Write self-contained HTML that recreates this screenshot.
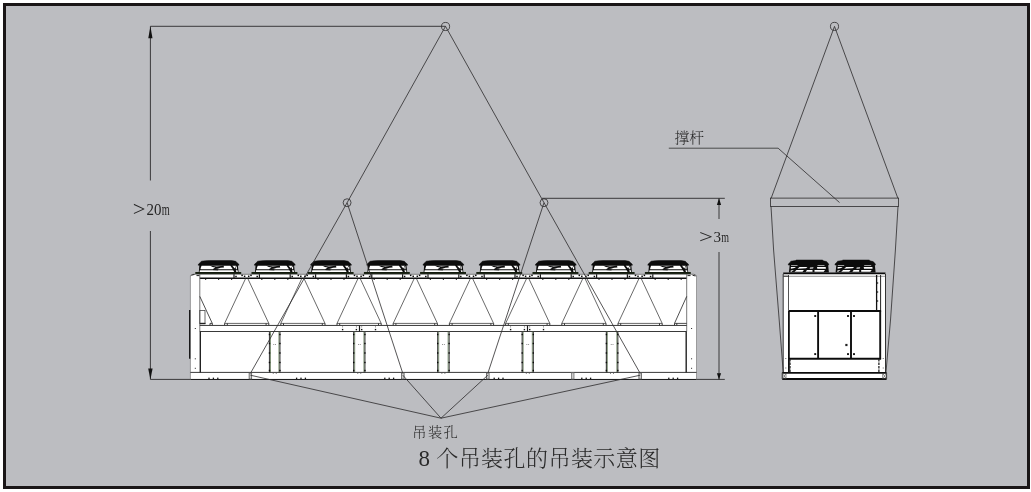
<!DOCTYPE html>
<html lang="zh-CN"><head><meta charset="utf-8"><title>8 个吊装孔的吊装示意图</title>
<style>
html,body{margin:0;padding:0;background:#fff;}
body{width:1031px;height:492px;overflow:hidden;position:relative;}
#frame{position:absolute;left:3px;top:3px;width:1021px;height:480px;border:3px solid #1a1617;background:#bcbdc1;}
svg{position:absolute;left:0;top:0;will-change:transform;}
.t{position:absolute;white-space:nowrap;color:#2a2a2a;line-height:1;font-family:"Liberation Serif","Noto Serif CJK SC",serif;}
</style></head><body>
<div id="frame"></div>
<svg width="1031" height="492" viewBox="0 0 1031 492">
<path d="M190.4,379.45 L190.4,275.8 L192.9,274.3 L694.0,274.3 L696.5,275.8 L696.5,379.45 Z" fill="#fff" stroke="none"/>
<line x1="195.30" y1="273.00" x2="241.20" y2="273.00" stroke="#16200f" stroke-width="1.9" />
<path d="M199.40,264.8 L237.80,264.8 L238.60,272.2 L198.80,272.2 Z" fill="#0c0c0c" stroke="none" stroke-width="0" />
<path d="M201.60,265.6 L230.20,265.6 L232.80,269.3 L200.60,269.3 L200.60,268.2 Z" fill="#fff" stroke="none" stroke-width="0" />
<path d="M232.20,265.6 L236.20,265.6 L234.80,268.4 Z" fill="#fff" stroke="none" stroke-width="0" />
<path d="M235.60,267.6 L236.90,266.0 L236.90,269.3 L236.00,269.3 Z" fill="#fff" stroke="none" stroke-width="0" />
<path d="M199.90,270.2 L233.20,270.2 L234.20,271.9 L199.60,271.9 Z" fill="#fff" stroke="none" stroke-width="0" />
<path d="M235.80,270.2 L237.60,270.2 L237.80,271.9 L236.40,271.9 Z" fill="#fff" stroke="none" stroke-width="0" />
<path d="M209.60,265.6 L216.60,266.4 L221.10,265.9 L223.60,265.6 L224.00,267.6 L220.60,267.8 L217.60,268.8 L212.60,269.3 L215.40,267.6 L212.60,266.9 Z" fill="#0c0c0c" stroke="none" stroke-width="0" />
<line x1="213.10" y1="269.60" x2="218.10" y2="269.90" stroke="#0c0c0c" stroke-width="1.0" />
<path d="M198.20,265.2 L198.50,264.1 L200.30,262.6 L201.40,261.2 L205.60,260.7 L209.60,260.5 L231.60,260.5 L235.80,261.3 L236.90,262.6 L238.70,264.1 L239.00,265.2 Z" fill="#0c0c0c" stroke="#0c0c0c" stroke-width="0.5" />
<line x1="251.50" y1="273.00" x2="297.40" y2="273.00" stroke="#16200f" stroke-width="1.9" />
<path d="M255.60,264.8 L294.00,264.8 L294.80,272.2 L255.00,272.2 Z" fill="#0c0c0c" stroke="none" stroke-width="0" />
<path d="M257.80,265.6 L286.40,265.6 L289.00,269.3 L256.80,269.3 L256.80,268.2 Z" fill="#fff" stroke="none" stroke-width="0" />
<path d="M288.40,265.6 L292.40,265.6 L291.00,268.4 Z" fill="#fff" stroke="none" stroke-width="0" />
<path d="M291.80,267.6 L293.10,266.0 L293.10,269.3 L292.20,269.3 Z" fill="#fff" stroke="none" stroke-width="0" />
<path d="M256.10,270.2 L289.40,270.2 L290.40,271.9 L255.80,271.9 Z" fill="#fff" stroke="none" stroke-width="0" />
<path d="M292.00,270.2 L293.80,270.2 L294.00,271.9 L292.60,271.9 Z" fill="#fff" stroke="none" stroke-width="0" />
<path d="M265.80,265.6 L272.80,266.4 L277.30,265.9 L279.80,265.6 L280.20,267.6 L276.80,267.8 L273.80,268.8 L268.80,269.3 L271.60,267.6 L268.80,266.9 Z" fill="#0c0c0c" stroke="none" stroke-width="0" />
<line x1="269.30" y1="269.60" x2="274.30" y2="269.90" stroke="#0c0c0c" stroke-width="1.0" />
<path d="M254.40,265.2 L254.70,264.1 L256.50,262.6 L257.60,261.2 L261.80,260.7 L265.80,260.5 L287.80,260.5 L292.00,261.3 L293.10,262.6 L294.90,264.1 L295.20,265.2 Z" fill="#0c0c0c" stroke="#0c0c0c" stroke-width="0.5" />
<line x1="307.70" y1="273.00" x2="353.60" y2="273.00" stroke="#16200f" stroke-width="1.9" />
<path d="M311.80,264.8 L350.20,264.8 L351.00,272.2 L311.20,272.2 Z" fill="#0c0c0c" stroke="none" stroke-width="0" />
<path d="M314.00,265.6 L342.60,265.6 L345.20,269.3 L313.00,269.3 L313.00,268.2 Z" fill="#fff" stroke="none" stroke-width="0" />
<path d="M344.60,265.6 L348.60,265.6 L347.20,268.4 Z" fill="#fff" stroke="none" stroke-width="0" />
<path d="M348.00,267.6 L349.30,266.0 L349.30,269.3 L348.40,269.3 Z" fill="#fff" stroke="none" stroke-width="0" />
<path d="M312.30,270.2 L345.60,270.2 L346.60,271.9 L312.00,271.9 Z" fill="#fff" stroke="none" stroke-width="0" />
<path d="M348.20,270.2 L350.00,270.2 L350.20,271.9 L348.80,271.9 Z" fill="#fff" stroke="none" stroke-width="0" />
<path d="M322.00,265.6 L329.00,266.4 L333.50,265.9 L336.00,265.6 L336.40,267.6 L333.00,267.8 L330.00,268.8 L325.00,269.3 L327.80,267.6 L325.00,266.9 Z" fill="#0c0c0c" stroke="none" stroke-width="0" />
<line x1="325.50" y1="269.60" x2="330.50" y2="269.90" stroke="#0c0c0c" stroke-width="1.0" />
<path d="M310.60,265.2 L310.90,264.1 L312.70,262.6 L313.80,261.2 L318.00,260.7 L322.00,260.5 L344.00,260.5 L348.20,261.3 L349.30,262.6 L351.10,264.1 L351.40,265.2 Z" fill="#0c0c0c" stroke="#0c0c0c" stroke-width="0.5" />
<line x1="363.90" y1="273.00" x2="409.80" y2="273.00" stroke="#16200f" stroke-width="1.9" />
<path d="M368.00,264.8 L406.40,264.8 L407.20,272.2 L367.40,272.2 Z" fill="#0c0c0c" stroke="none" stroke-width="0" />
<path d="M370.20,265.6 L398.80,265.6 L401.40,269.3 L369.20,269.3 L369.20,268.2 Z" fill="#fff" stroke="none" stroke-width="0" />
<path d="M400.80,265.6 L404.80,265.6 L403.40,268.4 Z" fill="#fff" stroke="none" stroke-width="0" />
<path d="M404.20,267.6 L405.50,266.0 L405.50,269.3 L404.60,269.3 Z" fill="#fff" stroke="none" stroke-width="0" />
<path d="M368.50,270.2 L401.80,270.2 L402.80,271.9 L368.20,271.9 Z" fill="#fff" stroke="none" stroke-width="0" />
<path d="M404.40,270.2 L406.20,270.2 L406.40,271.9 L405.00,271.9 Z" fill="#fff" stroke="none" stroke-width="0" />
<path d="M378.20,265.6 L385.20,266.4 L389.70,265.9 L392.20,265.6 L392.60,267.6 L389.20,267.8 L386.20,268.8 L381.20,269.3 L384.00,267.6 L381.20,266.9 Z" fill="#0c0c0c" stroke="none" stroke-width="0" />
<line x1="381.70" y1="269.60" x2="386.70" y2="269.90" stroke="#0c0c0c" stroke-width="1.0" />
<path d="M366.80,265.2 L367.10,264.1 L368.90,262.6 L370.00,261.2 L374.20,260.7 L378.20,260.5 L400.20,260.5 L404.40,261.3 L405.50,262.6 L407.30,264.1 L407.60,265.2 Z" fill="#0c0c0c" stroke="#0c0c0c" stroke-width="0.5" />
<line x1="420.10" y1="273.00" x2="466.00" y2="273.00" stroke="#16200f" stroke-width="1.9" />
<path d="M424.20,264.8 L462.60,264.8 L463.40,272.2 L423.60,272.2 Z" fill="#0c0c0c" stroke="none" stroke-width="0" />
<path d="M426.40,265.6 L455.00,265.6 L457.60,269.3 L425.40,269.3 L425.40,268.2 Z" fill="#fff" stroke="none" stroke-width="0" />
<path d="M457.00,265.6 L461.00,265.6 L459.60,268.4 Z" fill="#fff" stroke="none" stroke-width="0" />
<path d="M460.40,267.6 L461.70,266.0 L461.70,269.3 L460.80,269.3 Z" fill="#fff" stroke="none" stroke-width="0" />
<path d="M424.70,270.2 L458.00,270.2 L459.00,271.9 L424.40,271.9 Z" fill="#fff" stroke="none" stroke-width="0" />
<path d="M460.60,270.2 L462.40,270.2 L462.60,271.9 L461.20,271.9 Z" fill="#fff" stroke="none" stroke-width="0" />
<path d="M434.40,265.6 L441.40,266.4 L445.90,265.9 L448.40,265.6 L448.80,267.6 L445.40,267.8 L442.40,268.8 L437.40,269.3 L440.20,267.6 L437.40,266.9 Z" fill="#0c0c0c" stroke="none" stroke-width="0" />
<line x1="437.90" y1="269.60" x2="442.90" y2="269.90" stroke="#0c0c0c" stroke-width="1.0" />
<path d="M423.00,265.2 L423.30,264.1 L425.10,262.6 L426.20,261.2 L430.40,260.7 L434.40,260.5 L456.40,260.5 L460.60,261.3 L461.70,262.6 L463.50,264.1 L463.80,265.2 Z" fill="#0c0c0c" stroke="#0c0c0c" stroke-width="0.5" />
<line x1="476.30" y1="273.00" x2="522.20" y2="273.00" stroke="#16200f" stroke-width="1.9" />
<path d="M480.40,264.8 L518.80,264.8 L519.60,272.2 L479.80,272.2 Z" fill="#0c0c0c" stroke="none" stroke-width="0" />
<path d="M482.60,265.6 L511.20,265.6 L513.80,269.3 L481.60,269.3 L481.60,268.2 Z" fill="#fff" stroke="none" stroke-width="0" />
<path d="M513.20,265.6 L517.20,265.6 L515.80,268.4 Z" fill="#fff" stroke="none" stroke-width="0" />
<path d="M516.60,267.6 L517.90,266.0 L517.90,269.3 L517.00,269.3 Z" fill="#fff" stroke="none" stroke-width="0" />
<path d="M480.90,270.2 L514.20,270.2 L515.20,271.9 L480.60,271.9 Z" fill="#fff" stroke="none" stroke-width="0" />
<path d="M516.80,270.2 L518.60,270.2 L518.80,271.9 L517.40,271.9 Z" fill="#fff" stroke="none" stroke-width="0" />
<path d="M490.60,265.6 L497.60,266.4 L502.10,265.9 L504.60,265.6 L505.00,267.6 L501.60,267.8 L498.60,268.8 L493.60,269.3 L496.40,267.6 L493.60,266.9 Z" fill="#0c0c0c" stroke="none" stroke-width="0" />
<line x1="494.10" y1="269.60" x2="499.10" y2="269.90" stroke="#0c0c0c" stroke-width="1.0" />
<path d="M479.20,265.2 L479.50,264.1 L481.30,262.6 L482.40,261.2 L486.60,260.7 L490.60,260.5 L512.60,260.5 L516.80,261.3 L517.90,262.6 L519.70,264.1 L520.00,265.2 Z" fill="#0c0c0c" stroke="#0c0c0c" stroke-width="0.5" />
<line x1="532.50" y1="273.00" x2="578.40" y2="273.00" stroke="#16200f" stroke-width="1.9" />
<path d="M536.60,264.8 L575.00,264.8 L575.80,272.2 L536.00,272.2 Z" fill="#0c0c0c" stroke="none" stroke-width="0" />
<path d="M538.80,265.6 L567.40,265.6 L570.00,269.3 L537.80,269.3 L537.80,268.2 Z" fill="#fff" stroke="none" stroke-width="0" />
<path d="M569.40,265.6 L573.40,265.6 L572.00,268.4 Z" fill="#fff" stroke="none" stroke-width="0" />
<path d="M572.80,267.6 L574.10,266.0 L574.10,269.3 L573.20,269.3 Z" fill="#fff" stroke="none" stroke-width="0" />
<path d="M537.10,270.2 L570.40,270.2 L571.40,271.9 L536.80,271.9 Z" fill="#fff" stroke="none" stroke-width="0" />
<path d="M573.00,270.2 L574.80,270.2 L575.00,271.9 L573.60,271.9 Z" fill="#fff" stroke="none" stroke-width="0" />
<path d="M546.80,265.6 L553.80,266.4 L558.30,265.9 L560.80,265.6 L561.20,267.6 L557.80,267.8 L554.80,268.8 L549.80,269.3 L552.60,267.6 L549.80,266.9 Z" fill="#0c0c0c" stroke="none" stroke-width="0" />
<line x1="550.30" y1="269.60" x2="555.30" y2="269.90" stroke="#0c0c0c" stroke-width="1.0" />
<path d="M535.40,265.2 L535.70,264.1 L537.50,262.6 L538.60,261.2 L542.80,260.7 L546.80,260.5 L568.80,260.5 L573.00,261.3 L574.10,262.6 L575.90,264.1 L576.20,265.2 Z" fill="#0c0c0c" stroke="#0c0c0c" stroke-width="0.5" />
<line x1="588.70" y1="273.00" x2="634.60" y2="273.00" stroke="#16200f" stroke-width="1.9" />
<path d="M592.80,264.8 L631.20,264.8 L632.00,272.2 L592.20,272.2 Z" fill="#0c0c0c" stroke="none" stroke-width="0" />
<path d="M595.00,265.6 L623.60,265.6 L626.20,269.3 L594.00,269.3 L594.00,268.2 Z" fill="#fff" stroke="none" stroke-width="0" />
<path d="M625.60,265.6 L629.60,265.6 L628.20,268.4 Z" fill="#fff" stroke="none" stroke-width="0" />
<path d="M629.00,267.6 L630.30,266.0 L630.30,269.3 L629.40,269.3 Z" fill="#fff" stroke="none" stroke-width="0" />
<path d="M593.30,270.2 L626.60,270.2 L627.60,271.9 L593.00,271.9 Z" fill="#fff" stroke="none" stroke-width="0" />
<path d="M629.20,270.2 L631.00,270.2 L631.20,271.9 L629.80,271.9 Z" fill="#fff" stroke="none" stroke-width="0" />
<path d="M603.00,265.6 L610.00,266.4 L614.50,265.9 L617.00,265.6 L617.40,267.6 L614.00,267.8 L611.00,268.8 L606.00,269.3 L608.80,267.6 L606.00,266.9 Z" fill="#0c0c0c" stroke="none" stroke-width="0" />
<line x1="606.50" y1="269.60" x2="611.50" y2="269.90" stroke="#0c0c0c" stroke-width="1.0" />
<path d="M591.60,265.2 L591.90,264.1 L593.70,262.6 L594.80,261.2 L599.00,260.7 L603.00,260.5 L625.00,260.5 L629.20,261.3 L630.30,262.6 L632.10,264.1 L632.40,265.2 Z" fill="#0c0c0c" stroke="#0c0c0c" stroke-width="0.5" />
<line x1="644.90" y1="273.00" x2="690.80" y2="273.00" stroke="#16200f" stroke-width="1.9" />
<path d="M649.00,264.8 L687.40,264.8 L688.20,272.2 L648.40,272.2 Z" fill="#0c0c0c" stroke="none" stroke-width="0" />
<path d="M651.20,265.6 L679.80,265.6 L682.40,269.3 L650.20,269.3 L650.20,268.2 Z" fill="#fff" stroke="none" stroke-width="0" />
<path d="M681.80,265.6 L685.80,265.6 L684.40,268.4 Z" fill="#fff" stroke="none" stroke-width="0" />
<path d="M685.20,267.6 L686.50,266.0 L686.50,269.3 L685.60,269.3 Z" fill="#fff" stroke="none" stroke-width="0" />
<path d="M649.50,270.2 L682.80,270.2 L683.80,271.9 L649.20,271.9 Z" fill="#fff" stroke="none" stroke-width="0" />
<path d="M685.40,270.2 L687.20,270.2 L687.40,271.9 L686.00,271.9 Z" fill="#fff" stroke="none" stroke-width="0" />
<path d="M659.20,265.6 L666.20,266.4 L670.70,265.9 L673.20,265.6 L673.60,267.6 L670.20,267.8 L667.20,268.8 L662.20,269.3 L665.00,267.6 L662.20,266.9 Z" fill="#0c0c0c" stroke="none" stroke-width="0" />
<line x1="662.70" y1="269.60" x2="667.70" y2="269.90" stroke="#0c0c0c" stroke-width="1.0" />
<path d="M647.80,265.2 L648.10,264.1 L649.90,262.6 L651.00,261.2 L655.20,260.7 L659.20,260.5 L681.20,260.5 L685.40,261.3 L686.50,262.6 L688.30,264.1 L688.60,265.2 Z" fill="#0c0c0c" stroke="#0c0c0c" stroke-width="0.5" />
<line x1="192.90" y1="274.30" x2="694.00" y2="274.30" stroke="#555" stroke-width="0.7" />
<line x1="199.80" y1="278.20" x2="686.70" y2="278.20" stroke="#111" stroke-width="1.4" />
<line x1="191.50" y1="275.20" x2="194.50" y2="274.40" stroke="#222" stroke-width="1.0" />
<line x1="196.50" y1="275.60" x2="199.50" y2="275.60" stroke="#222" stroke-width="1.0" />
<line x1="692.50" y1="275.20" x2="695.50" y2="276.00" stroke="#222" stroke-width="1.0" />
<line x1="687.50" y1="275.60" x2="690.50" y2="275.60" stroke="#222" stroke-width="1.0" />
<line x1="190.40" y1="275.80" x2="190.40" y2="379.45" stroke="#8a8a8a" stroke-width="0.8" />
<line x1="696.50" y1="275.80" x2="696.50" y2="379.45" stroke="#8a8a8a" stroke-width="0.8" />
<line x1="190.40" y1="275.80" x2="192.90" y2="274.30" stroke="#444" stroke-width="0.8" />
<line x1="696.50" y1="275.80" x2="694.00" y2="274.30" stroke="#444" stroke-width="0.8" />
<line x1="199.80" y1="274.30" x2="199.80" y2="331.50" stroke="#555" stroke-width="0.8" />
<line x1="686.70" y1="274.30" x2="686.70" y2="331.50" stroke="#555" stroke-width="0.8" />
<line x1="200.30" y1="331.50" x2="200.30" y2="372.40" stroke="#222" stroke-width="1.4" />
<line x1="686.20" y1="331.50" x2="686.20" y2="372.40" stroke="#222" stroke-width="1.4" />
<line x1="234.00" y1="274.30" x2="234.00" y2="278.40" stroke="#1a1a1a" stroke-width="1.2" />
<line x1="259.40" y1="274.30" x2="259.40" y2="278.40" stroke="#1a1a1a" stroke-width="1.2" />
<rect x="235.25" y="275.75" width="1.5" height="1.5" fill="#0a0a0a"/>
<rect x="241.35" y="274.65" width="1.5" height="1.5" fill="#0a0a0a"/>
<rect x="243.85" y="275.55" width="1.5" height="1.5" fill="#0a0a0a"/>
<rect x="247.95" y="275.55" width="1.5" height="1.5" fill="#0a0a0a"/>
<rect x="250.25" y="274.65" width="1.5" height="1.5" fill="#0a0a0a"/>
<rect x="256.45" y="275.75" width="1.5" height="1.5" fill="#0a0a0a"/>
<line x1="245.70" y1="278.30" x2="224.60" y2="323.40" stroke="#2a2a2a" stroke-width="0.7" />
<line x1="247.70" y1="278.30" x2="268.80" y2="323.40" stroke="#2a2a2a" stroke-width="0.7" />
<line x1="224.60" y1="323.40" x2="268.80" y2="323.40" stroke="#2a2a2a" stroke-width="0.7" />
<line x1="224.60" y1="323.40" x2="224.60" y2="325.20" stroke="#222" stroke-width="0.9" />
<line x1="227.30" y1="323.40" x2="227.30" y2="325.20" stroke="#222" stroke-width="0.9" />
<line x1="266.10" y1="323.40" x2="266.10" y2="325.20" stroke="#222" stroke-width="0.9" />
<line x1="268.80" y1="323.40" x2="268.80" y2="325.20" stroke="#222" stroke-width="0.9" />
<line x1="290.20" y1="274.30" x2="290.20" y2="278.40" stroke="#1a1a1a" stroke-width="1.2" />
<line x1="315.60" y1="274.30" x2="315.60" y2="278.40" stroke="#1a1a1a" stroke-width="1.2" />
<rect x="291.45" y="275.75" width="1.5" height="1.5" fill="#0a0a0a"/>
<rect x="297.55" y="274.65" width="1.5" height="1.5" fill="#0a0a0a"/>
<rect x="300.05" y="275.55" width="1.5" height="1.5" fill="#0a0a0a"/>
<rect x="304.15" y="275.55" width="1.5" height="1.5" fill="#0a0a0a"/>
<rect x="306.45" y="274.65" width="1.5" height="1.5" fill="#0a0a0a"/>
<rect x="312.65" y="275.75" width="1.5" height="1.5" fill="#0a0a0a"/>
<line x1="301.90" y1="278.30" x2="280.80" y2="323.40" stroke="#2a2a2a" stroke-width="0.7" />
<line x1="303.90" y1="278.30" x2="325.00" y2="323.40" stroke="#2a2a2a" stroke-width="0.7" />
<line x1="280.80" y1="323.40" x2="325.00" y2="323.40" stroke="#2a2a2a" stroke-width="0.7" />
<line x1="280.80" y1="323.40" x2="280.80" y2="325.20" stroke="#222" stroke-width="0.9" />
<line x1="283.50" y1="323.40" x2="283.50" y2="325.20" stroke="#222" stroke-width="0.9" />
<line x1="322.30" y1="323.40" x2="322.30" y2="325.20" stroke="#222" stroke-width="0.9" />
<line x1="325.00" y1="323.40" x2="325.00" y2="325.20" stroke="#222" stroke-width="0.9" />
<line x1="346.40" y1="274.30" x2="346.40" y2="278.40" stroke="#1a1a1a" stroke-width="1.2" />
<line x1="371.80" y1="274.30" x2="371.80" y2="278.40" stroke="#1a1a1a" stroke-width="1.2" />
<rect x="347.65" y="275.75" width="1.5" height="1.5" fill="#0a0a0a"/>
<rect x="353.75" y="274.65" width="1.5" height="1.5" fill="#0a0a0a"/>
<rect x="356.25" y="275.55" width="1.5" height="1.5" fill="#0a0a0a"/>
<rect x="360.35" y="275.55" width="1.5" height="1.5" fill="#0a0a0a"/>
<rect x="362.65" y="274.65" width="1.5" height="1.5" fill="#0a0a0a"/>
<rect x="368.85" y="275.75" width="1.5" height="1.5" fill="#0a0a0a"/>
<line x1="358.10" y1="278.30" x2="337.00" y2="323.40" stroke="#2a2a2a" stroke-width="0.7" />
<line x1="360.10" y1="278.30" x2="381.20" y2="323.40" stroke="#2a2a2a" stroke-width="0.7" />
<line x1="337.00" y1="323.40" x2="381.20" y2="323.40" stroke="#2a2a2a" stroke-width="0.7" />
<line x1="337.00" y1="323.40" x2="337.00" y2="325.20" stroke="#222" stroke-width="0.9" />
<line x1="339.70" y1="323.40" x2="339.70" y2="325.20" stroke="#222" stroke-width="0.9" />
<line x1="378.50" y1="323.40" x2="378.50" y2="325.20" stroke="#222" stroke-width="0.9" />
<line x1="381.20" y1="323.40" x2="381.20" y2="325.20" stroke="#222" stroke-width="0.9" />
<line x1="402.60" y1="274.30" x2="402.60" y2="278.40" stroke="#1a1a1a" stroke-width="1.2" />
<line x1="428.00" y1="274.30" x2="428.00" y2="278.40" stroke="#1a1a1a" stroke-width="1.2" />
<rect x="403.85" y="275.75" width="1.5" height="1.5" fill="#0a0a0a"/>
<rect x="409.95" y="274.65" width="1.5" height="1.5" fill="#0a0a0a"/>
<rect x="412.45" y="275.55" width="1.5" height="1.5" fill="#0a0a0a"/>
<rect x="416.55" y="275.55" width="1.5" height="1.5" fill="#0a0a0a"/>
<rect x="418.85" y="274.65" width="1.5" height="1.5" fill="#0a0a0a"/>
<rect x="425.05" y="275.75" width="1.5" height="1.5" fill="#0a0a0a"/>
<line x1="414.30" y1="278.30" x2="393.20" y2="323.40" stroke="#2a2a2a" stroke-width="0.7" />
<line x1="416.30" y1="278.30" x2="437.40" y2="323.40" stroke="#2a2a2a" stroke-width="0.7" />
<line x1="393.20" y1="323.40" x2="437.40" y2="323.40" stroke="#2a2a2a" stroke-width="0.7" />
<line x1="393.20" y1="323.40" x2="393.20" y2="325.20" stroke="#222" stroke-width="0.9" />
<line x1="395.90" y1="323.40" x2="395.90" y2="325.20" stroke="#222" stroke-width="0.9" />
<line x1="434.70" y1="323.40" x2="434.70" y2="325.20" stroke="#222" stroke-width="0.9" />
<line x1="437.40" y1="323.40" x2="437.40" y2="325.20" stroke="#222" stroke-width="0.9" />
<line x1="458.80" y1="274.30" x2="458.80" y2="278.40" stroke="#1a1a1a" stroke-width="1.2" />
<line x1="484.20" y1="274.30" x2="484.20" y2="278.40" stroke="#1a1a1a" stroke-width="1.2" />
<rect x="460.05" y="275.75" width="1.5" height="1.5" fill="#0a0a0a"/>
<rect x="466.15" y="274.65" width="1.5" height="1.5" fill="#0a0a0a"/>
<rect x="468.65" y="275.55" width="1.5" height="1.5" fill="#0a0a0a"/>
<rect x="472.75" y="275.55" width="1.5" height="1.5" fill="#0a0a0a"/>
<rect x="475.05" y="274.65" width="1.5" height="1.5" fill="#0a0a0a"/>
<rect x="481.25" y="275.75" width="1.5" height="1.5" fill="#0a0a0a"/>
<line x1="470.50" y1="278.30" x2="449.40" y2="323.40" stroke="#2a2a2a" stroke-width="0.7" />
<line x1="472.50" y1="278.30" x2="493.60" y2="323.40" stroke="#2a2a2a" stroke-width="0.7" />
<line x1="449.40" y1="323.40" x2="493.60" y2="323.40" stroke="#2a2a2a" stroke-width="0.7" />
<line x1="449.40" y1="323.40" x2="449.40" y2="325.20" stroke="#222" stroke-width="0.9" />
<line x1="452.10" y1="323.40" x2="452.10" y2="325.20" stroke="#222" stroke-width="0.9" />
<line x1="490.90" y1="323.40" x2="490.90" y2="325.20" stroke="#222" stroke-width="0.9" />
<line x1="493.60" y1="323.40" x2="493.60" y2="325.20" stroke="#222" stroke-width="0.9" />
<line x1="515.00" y1="274.30" x2="515.00" y2="278.40" stroke="#1a1a1a" stroke-width="1.2" />
<line x1="540.40" y1="274.30" x2="540.40" y2="278.40" stroke="#1a1a1a" stroke-width="1.2" />
<rect x="516.25" y="275.75" width="1.5" height="1.5" fill="#0a0a0a"/>
<rect x="522.35" y="274.65" width="1.5" height="1.5" fill="#0a0a0a"/>
<rect x="524.85" y="275.55" width="1.5" height="1.5" fill="#0a0a0a"/>
<rect x="528.95" y="275.55" width="1.5" height="1.5" fill="#0a0a0a"/>
<rect x="531.25" y="274.65" width="1.5" height="1.5" fill="#0a0a0a"/>
<rect x="537.45" y="275.75" width="1.5" height="1.5" fill="#0a0a0a"/>
<line x1="526.70" y1="278.30" x2="505.60" y2="323.40" stroke="#2a2a2a" stroke-width="0.7" />
<line x1="528.70" y1="278.30" x2="549.80" y2="323.40" stroke="#2a2a2a" stroke-width="0.7" />
<line x1="505.60" y1="323.40" x2="549.80" y2="323.40" stroke="#2a2a2a" stroke-width="0.7" />
<line x1="505.60" y1="323.40" x2="505.60" y2="325.20" stroke="#222" stroke-width="0.9" />
<line x1="508.30" y1="323.40" x2="508.30" y2="325.20" stroke="#222" stroke-width="0.9" />
<line x1="547.10" y1="323.40" x2="547.10" y2="325.20" stroke="#222" stroke-width="0.9" />
<line x1="549.80" y1="323.40" x2="549.80" y2="325.20" stroke="#222" stroke-width="0.9" />
<line x1="571.20" y1="274.30" x2="571.20" y2="278.40" stroke="#1a1a1a" stroke-width="1.2" />
<line x1="596.60" y1="274.30" x2="596.60" y2="278.40" stroke="#1a1a1a" stroke-width="1.2" />
<rect x="572.45" y="275.75" width="1.5" height="1.5" fill="#0a0a0a"/>
<rect x="578.55" y="274.65" width="1.5" height="1.5" fill="#0a0a0a"/>
<rect x="581.05" y="275.55" width="1.5" height="1.5" fill="#0a0a0a"/>
<rect x="585.15" y="275.55" width="1.5" height="1.5" fill="#0a0a0a"/>
<rect x="587.45" y="274.65" width="1.5" height="1.5" fill="#0a0a0a"/>
<rect x="593.65" y="275.75" width="1.5" height="1.5" fill="#0a0a0a"/>
<line x1="582.90" y1="278.30" x2="561.80" y2="323.40" stroke="#2a2a2a" stroke-width="0.7" />
<line x1="584.90" y1="278.30" x2="606.00" y2="323.40" stroke="#2a2a2a" stroke-width="0.7" />
<line x1="561.80" y1="323.40" x2="606.00" y2="323.40" stroke="#2a2a2a" stroke-width="0.7" />
<line x1="561.80" y1="323.40" x2="561.80" y2="325.20" stroke="#222" stroke-width="0.9" />
<line x1="564.50" y1="323.40" x2="564.50" y2="325.20" stroke="#222" stroke-width="0.9" />
<line x1="603.30" y1="323.40" x2="603.30" y2="325.20" stroke="#222" stroke-width="0.9" />
<line x1="606.00" y1="323.40" x2="606.00" y2="325.20" stroke="#222" stroke-width="0.9" />
<line x1="627.40" y1="274.30" x2="627.40" y2="278.40" stroke="#1a1a1a" stroke-width="1.2" />
<line x1="652.80" y1="274.30" x2="652.80" y2="278.40" stroke="#1a1a1a" stroke-width="1.2" />
<rect x="628.65" y="275.75" width="1.5" height="1.5" fill="#0a0a0a"/>
<rect x="634.75" y="274.65" width="1.5" height="1.5" fill="#0a0a0a"/>
<rect x="637.25" y="275.55" width="1.5" height="1.5" fill="#0a0a0a"/>
<rect x="641.35" y="275.55" width="1.5" height="1.5" fill="#0a0a0a"/>
<rect x="643.65" y="274.65" width="1.5" height="1.5" fill="#0a0a0a"/>
<rect x="649.85" y="275.75" width="1.5" height="1.5" fill="#0a0a0a"/>
<line x1="639.10" y1="278.30" x2="618.00" y2="323.40" stroke="#2a2a2a" stroke-width="0.7" />
<line x1="641.10" y1="278.30" x2="662.20" y2="323.40" stroke="#2a2a2a" stroke-width="0.7" />
<line x1="618.00" y1="323.40" x2="662.20" y2="323.40" stroke="#2a2a2a" stroke-width="0.7" />
<line x1="618.00" y1="323.40" x2="618.00" y2="325.20" stroke="#222" stroke-width="0.9" />
<line x1="620.70" y1="323.40" x2="620.70" y2="325.20" stroke="#222" stroke-width="0.9" />
<line x1="659.50" y1="323.40" x2="659.50" y2="325.20" stroke="#222" stroke-width="0.9" />
<line x1="662.20" y1="323.40" x2="662.20" y2="325.20" stroke="#222" stroke-width="0.9" />
<rect x="205.00" y="278.60" width="1.2" height="1.2" fill="#111"/>
<rect x="218.00" y="278.60" width="1.2" height="1.2" fill="#111"/>
<rect x="231.00" y="278.60" width="1.2" height="1.2" fill="#111"/>
<rect x="261.20" y="278.60" width="1.2" height="1.2" fill="#111"/>
<rect x="274.20" y="278.60" width="1.2" height="1.2" fill="#111"/>
<rect x="287.20" y="278.60" width="1.2" height="1.2" fill="#111"/>
<rect x="317.40" y="278.60" width="1.2" height="1.2" fill="#111"/>
<rect x="330.40" y="278.60" width="1.2" height="1.2" fill="#111"/>
<rect x="343.40" y="278.60" width="1.2" height="1.2" fill="#111"/>
<rect x="373.60" y="278.60" width="1.2" height="1.2" fill="#111"/>
<rect x="386.60" y="278.60" width="1.2" height="1.2" fill="#111"/>
<rect x="399.60" y="278.60" width="1.2" height="1.2" fill="#111"/>
<rect x="429.80" y="278.60" width="1.2" height="1.2" fill="#111"/>
<rect x="442.80" y="278.60" width="1.2" height="1.2" fill="#111"/>
<rect x="455.80" y="278.60" width="1.2" height="1.2" fill="#111"/>
<rect x="486.00" y="278.60" width="1.2" height="1.2" fill="#111"/>
<rect x="499.00" y="278.60" width="1.2" height="1.2" fill="#111"/>
<rect x="512.00" y="278.60" width="1.2" height="1.2" fill="#111"/>
<rect x="542.20" y="278.60" width="1.2" height="1.2" fill="#111"/>
<rect x="555.20" y="278.60" width="1.2" height="1.2" fill="#111"/>
<rect x="568.20" y="278.60" width="1.2" height="1.2" fill="#111"/>
<rect x="598.40" y="278.60" width="1.2" height="1.2" fill="#111"/>
<rect x="611.40" y="278.60" width="1.2" height="1.2" fill="#111"/>
<rect x="624.40" y="278.60" width="1.2" height="1.2" fill="#111"/>
<rect x="654.60" y="278.60" width="1.2" height="1.2" fill="#111"/>
<rect x="667.60" y="278.60" width="1.2" height="1.2" fill="#111"/>
<rect x="680.60" y="278.60" width="1.2" height="1.2" fill="#111"/>
<line x1="199.80" y1="296.40" x2="212.30" y2="323.40" stroke="#222" stroke-width="0.8" />
<line x1="210.00" y1="323.40" x2="212.30" y2="323.40" stroke="#222" stroke-width="0.8" />
<line x1="210.00" y1="323.40" x2="210.00" y2="325.20" stroke="#222" stroke-width="0.9" />
<line x1="212.30" y1="323.40" x2="212.30" y2="325.20" stroke="#222" stroke-width="0.9" />
<line x1="686.70" y1="296.40" x2="674.50" y2="323.40" stroke="#222" stroke-width="0.8" />
<line x1="674.50" y1="323.40" x2="686.70" y2="323.40" stroke="#222" stroke-width="0.8" />
<line x1="674.50" y1="323.40" x2="674.50" y2="325.20" stroke="#222" stroke-width="0.9" />
<line x1="676.80" y1="323.40" x2="676.80" y2="325.20" stroke="#222" stroke-width="0.9" />
<rect x="199.80" y="310.40" width="5.20" height="13.00" fill="none" stroke="#444" stroke-width="0.8"/>
<line x1="199.80" y1="323.50" x2="205.50" y2="323.50" stroke="#222" stroke-width="1.4" />
<line x1="189.70" y1="310.00" x2="189.70" y2="358.80" stroke="#111" stroke-width="1.3" />
<line x1="199.80" y1="325.45" x2="686.70" y2="325.45" stroke="#222" stroke-width="0.9" />
<line x1="199.80" y1="331.50" x2="686.70" y2="331.50" stroke="#222" stroke-width="0.9" />
<line x1="359.50" y1="325.45" x2="359.50" y2="331.50" stroke="#1a1a1a" stroke-width="1.2" />
<rect x="342.15" y="326.45" width="0.9" height="0.9" fill="#555"/>
<rect x="341.90" y="328.90" width="1.4" height="1.4" fill="#111"/>
<rect x="355.95" y="326.45" width="0.9" height="0.9" fill="#555"/>
<rect x="355.70" y="328.90" width="1.4" height="1.4" fill="#111"/>
<rect x="361.25" y="326.45" width="0.9" height="0.9" fill="#555"/>
<rect x="361.00" y="328.90" width="1.4" height="1.4" fill="#111"/>
<rect x="375.05" y="326.45" width="0.9" height="0.9" fill="#555"/>
<rect x="374.80" y="328.90" width="1.4" height="1.4" fill="#111"/>
<line x1="527.50" y1="325.45" x2="527.50" y2="331.50" stroke="#1a1a1a" stroke-width="1.2" />
<rect x="510.15" y="326.45" width="0.9" height="0.9" fill="#555"/>
<rect x="509.90" y="328.90" width="1.4" height="1.4" fill="#111"/>
<rect x="523.95" y="326.45" width="0.9" height="0.9" fill="#555"/>
<rect x="523.70" y="328.90" width="1.4" height="1.4" fill="#111"/>
<rect x="529.25" y="326.45" width="0.9" height="0.9" fill="#555"/>
<rect x="529.00" y="328.90" width="1.4" height="1.4" fill="#111"/>
<rect x="543.05" y="326.45" width="0.9" height="0.9" fill="#555"/>
<rect x="542.80" y="328.90" width="1.4" height="1.4" fill="#111"/>
<line x1="269.50" y1="331.50" x2="269.50" y2="372.40" stroke="#444" stroke-width="1.2" />
<line x1="270.50" y1="331.50" x2="270.50" y2="372.40" stroke="#56704a" stroke-width="0.7" />
<rect x="268.80" y="333.80" width="1.4" height="1.4" fill="#0a0a0a"/>
<rect x="268.80" y="342.80" width="1.4" height="1.4" fill="#0a0a0a"/>
<rect x="268.80" y="352.30" width="1.4" height="1.4" fill="#0a0a0a"/>
<rect x="268.80" y="361.80" width="1.4" height="1.4" fill="#0a0a0a"/>
<rect x="268.80" y="369.80" width="1.4" height="1.4" fill="#0a0a0a"/>
<rect x="273.40" y="344.00" width="0.8" height="0.8" fill="#555"/>
<rect x="275.20" y="344.00" width="0.8" height="0.8" fill="#555"/>
<rect x="272.80" y="373.00" width="0.8" height="0.8" fill="#444"/>
<rect x="275.80" y="373.00" width="0.8" height="0.8" fill="#444"/>
<line x1="279.90" y1="331.50" x2="279.90" y2="372.40" stroke="#444" stroke-width="1.2" />
<line x1="278.90" y1="331.50" x2="278.90" y2="372.40" stroke="#56704a" stroke-width="0.7" />
<line x1="353.70" y1="331.50" x2="353.70" y2="372.40" stroke="#444" stroke-width="1.2" />
<line x1="354.70" y1="331.50" x2="354.70" y2="372.40" stroke="#56704a" stroke-width="0.7" />
<rect x="279.20" y="333.80" width="1.4" height="1.4" fill="#0a0a0a"/>
<rect x="353.00" y="333.80" width="1.4" height="1.4" fill="#0a0a0a"/>
<rect x="279.20" y="342.80" width="1.4" height="1.4" fill="#0a0a0a"/>
<rect x="353.00" y="342.80" width="1.4" height="1.4" fill="#0a0a0a"/>
<rect x="279.20" y="352.30" width="1.4" height="1.4" fill="#0a0a0a"/>
<rect x="353.00" y="352.30" width="1.4" height="1.4" fill="#0a0a0a"/>
<rect x="279.20" y="361.80" width="1.4" height="1.4" fill="#0a0a0a"/>
<rect x="353.00" y="361.80" width="1.4" height="1.4" fill="#0a0a0a"/>
<rect x="279.20" y="369.80" width="1.4" height="1.4" fill="#0a0a0a"/>
<rect x="353.00" y="369.80" width="1.4" height="1.4" fill="#0a0a0a"/>
<rect x="358.00" y="344.00" width="0.8" height="0.8" fill="#555"/>
<rect x="359.80" y="344.00" width="0.8" height="0.8" fill="#555"/>
<rect x="357.40" y="373.00" width="0.8" height="0.8" fill="#444"/>
<rect x="360.40" y="373.00" width="0.8" height="0.8" fill="#444"/>
<line x1="364.90" y1="331.50" x2="364.90" y2="372.40" stroke="#444" stroke-width="1.2" />
<line x1="363.90" y1="331.50" x2="363.90" y2="372.40" stroke="#56704a" stroke-width="0.7" />
<line x1="437.70" y1="331.50" x2="437.70" y2="372.40" stroke="#444" stroke-width="1.2" />
<line x1="438.70" y1="331.50" x2="438.70" y2="372.40" stroke="#56704a" stroke-width="0.7" />
<rect x="364.20" y="333.80" width="1.4" height="1.4" fill="#0a0a0a"/>
<rect x="437.00" y="333.80" width="1.4" height="1.4" fill="#0a0a0a"/>
<rect x="364.20" y="342.80" width="1.4" height="1.4" fill="#0a0a0a"/>
<rect x="437.00" y="342.80" width="1.4" height="1.4" fill="#0a0a0a"/>
<rect x="364.20" y="352.30" width="1.4" height="1.4" fill="#0a0a0a"/>
<rect x="437.00" y="352.30" width="1.4" height="1.4" fill="#0a0a0a"/>
<rect x="364.20" y="361.80" width="1.4" height="1.4" fill="#0a0a0a"/>
<rect x="437.00" y="361.80" width="1.4" height="1.4" fill="#0a0a0a"/>
<rect x="364.20" y="369.80" width="1.4" height="1.4" fill="#0a0a0a"/>
<rect x="437.00" y="369.80" width="1.4" height="1.4" fill="#0a0a0a"/>
<rect x="442.10" y="344.00" width="0.8" height="0.8" fill="#555"/>
<rect x="443.90" y="344.00" width="0.8" height="0.8" fill="#555"/>
<rect x="441.50" y="373.00" width="0.8" height="0.8" fill="#444"/>
<rect x="444.50" y="373.00" width="0.8" height="0.8" fill="#444"/>
<line x1="449.10" y1="331.50" x2="449.10" y2="372.40" stroke="#444" stroke-width="1.2" />
<line x1="448.10" y1="331.50" x2="448.10" y2="372.40" stroke="#56704a" stroke-width="0.7" />
<line x1="522.20" y1="331.50" x2="522.20" y2="372.40" stroke="#444" stroke-width="1.2" />
<line x1="523.20" y1="331.50" x2="523.20" y2="372.40" stroke="#56704a" stroke-width="0.7" />
<rect x="448.40" y="333.80" width="1.4" height="1.4" fill="#0a0a0a"/>
<rect x="521.50" y="333.80" width="1.4" height="1.4" fill="#0a0a0a"/>
<rect x="448.40" y="342.80" width="1.4" height="1.4" fill="#0a0a0a"/>
<rect x="521.50" y="342.80" width="1.4" height="1.4" fill="#0a0a0a"/>
<rect x="448.40" y="352.30" width="1.4" height="1.4" fill="#0a0a0a"/>
<rect x="521.50" y="352.30" width="1.4" height="1.4" fill="#0a0a0a"/>
<rect x="448.40" y="361.80" width="1.4" height="1.4" fill="#0a0a0a"/>
<rect x="521.50" y="361.80" width="1.4" height="1.4" fill="#0a0a0a"/>
<rect x="448.40" y="369.80" width="1.4" height="1.4" fill="#0a0a0a"/>
<rect x="521.50" y="369.80" width="1.4" height="1.4" fill="#0a0a0a"/>
<rect x="526.45" y="344.00" width="0.8" height="0.8" fill="#555"/>
<rect x="528.25" y="344.00" width="0.8" height="0.8" fill="#555"/>
<rect x="525.85" y="373.00" width="0.8" height="0.8" fill="#444"/>
<rect x="528.85" y="373.00" width="0.8" height="0.8" fill="#444"/>
<line x1="533.30" y1="331.50" x2="533.30" y2="372.40" stroke="#444" stroke-width="1.2" />
<line x1="532.30" y1="331.50" x2="532.30" y2="372.40" stroke="#56704a" stroke-width="0.7" />
<line x1="606.40" y1="331.50" x2="606.40" y2="372.40" stroke="#444" stroke-width="1.2" />
<line x1="607.40" y1="331.50" x2="607.40" y2="372.40" stroke="#56704a" stroke-width="0.7" />
<rect x="532.60" y="333.80" width="1.4" height="1.4" fill="#0a0a0a"/>
<rect x="605.70" y="333.80" width="1.4" height="1.4" fill="#0a0a0a"/>
<rect x="532.60" y="342.80" width="1.4" height="1.4" fill="#0a0a0a"/>
<rect x="605.70" y="342.80" width="1.4" height="1.4" fill="#0a0a0a"/>
<rect x="532.60" y="352.30" width="1.4" height="1.4" fill="#0a0a0a"/>
<rect x="605.70" y="352.30" width="1.4" height="1.4" fill="#0a0a0a"/>
<rect x="532.60" y="361.80" width="1.4" height="1.4" fill="#0a0a0a"/>
<rect x="605.70" y="361.80" width="1.4" height="1.4" fill="#0a0a0a"/>
<rect x="532.60" y="369.80" width="1.4" height="1.4" fill="#0a0a0a"/>
<rect x="605.70" y="369.80" width="1.4" height="1.4" fill="#0a0a0a"/>
<rect x="610.80" y="344.00" width="0.8" height="0.8" fill="#555"/>
<rect x="612.60" y="344.00" width="0.8" height="0.8" fill="#555"/>
<rect x="610.20" y="373.00" width="0.8" height="0.8" fill="#444"/>
<rect x="613.20" y="373.00" width="0.8" height="0.8" fill="#444"/>
<line x1="617.80" y1="331.50" x2="617.80" y2="372.40" stroke="#444" stroke-width="1.2" />
<line x1="616.80" y1="331.50" x2="616.80" y2="372.40" stroke="#56704a" stroke-width="0.7" />
<rect x="617.10" y="333.80" width="1.4" height="1.4" fill="#0a0a0a"/>
<rect x="617.10" y="342.80" width="1.4" height="1.4" fill="#0a0a0a"/>
<rect x="617.10" y="352.30" width="1.4" height="1.4" fill="#0a0a0a"/>
<rect x="617.10" y="361.80" width="1.4" height="1.4" fill="#0a0a0a"/>
<rect x="617.10" y="369.80" width="1.4" height="1.4" fill="#0a0a0a"/>
<rect x="194.80" y="328.00" width="1.0" height="1.0" fill="#222"/>
<rect x="691.10" y="328.00" width="1.0" height="1.0" fill="#222"/>
<rect x="194.80" y="358.30" width="1.0" height="1.0" fill="#222"/>
<rect x="691.10" y="358.30" width="1.0" height="1.0" fill="#222"/>
<rect x="194.80" y="367.80" width="1.0" height="1.0" fill="#222"/>
<rect x="691.10" y="367.80" width="1.0" height="1.0" fill="#222"/>
<line x1="190.40" y1="372.40" x2="696.50" y2="372.40" stroke="#222" stroke-width="0.9" />
<line x1="190.40" y1="379.45" x2="696.50" y2="379.45" stroke="#111" stroke-width="1.0" />
<rect x="208.35" y="377.65" width="1.3" height="1.3" fill="#0a0a0a"/>
<rect x="212.75" y="377.65" width="1.3" height="1.3" fill="#0a0a0a"/>
<rect x="217.15" y="377.65" width="1.3" height="1.3" fill="#0a0a0a"/>
<rect x="295.95" y="377.65" width="1.3" height="1.3" fill="#0a0a0a"/>
<rect x="300.35" y="377.65" width="1.3" height="1.3" fill="#0a0a0a"/>
<rect x="304.75" y="377.65" width="1.3" height="1.3" fill="#0a0a0a"/>
<rect x="384.15" y="377.65" width="1.3" height="1.3" fill="#0a0a0a"/>
<rect x="388.55" y="377.65" width="1.3" height="1.3" fill="#0a0a0a"/>
<rect x="392.95" y="377.65" width="1.3" height="1.3" fill="#0a0a0a"/>
<rect x="493.55" y="377.65" width="1.3" height="1.3" fill="#0a0a0a"/>
<rect x="497.95" y="377.65" width="1.3" height="1.3" fill="#0a0a0a"/>
<rect x="502.35" y="377.65" width="1.3" height="1.3" fill="#0a0a0a"/>
<rect x="581.15" y="377.65" width="1.3" height="1.3" fill="#0a0a0a"/>
<rect x="585.55" y="377.65" width="1.3" height="1.3" fill="#0a0a0a"/>
<rect x="589.95" y="377.65" width="1.3" height="1.3" fill="#0a0a0a"/>
<rect x="668.15" y="377.65" width="1.3" height="1.3" fill="#0a0a0a"/>
<rect x="672.55" y="377.65" width="1.3" height="1.3" fill="#0a0a0a"/>
<rect x="676.95" y="377.65" width="1.3" height="1.3" fill="#0a0a0a"/>
<rect x="249.10" y="372.80" width="2.60" height="6.25" fill="#ccc" stroke="#444" stroke-width="0.7"/>
<rect x="401.50" y="372.80" width="2.60" height="6.25" fill="#ccc" stroke="#444" stroke-width="0.7"/>
<rect x="486.50" y="372.80" width="2.60" height="6.25" fill="#ccc" stroke="#444" stroke-width="0.7"/>
<rect x="638.90" y="372.80" width="2.60" height="6.25" fill="#ccc" stroke="#444" stroke-width="0.7"/>
<rect x="571.40" y="372.80" width="2.60" height="6.25" fill="#ccc" stroke="#666" stroke-width="0.7"/>
<line x1="150.40" y1="26.30" x2="445.50" y2="26.30" stroke="#2b2a2b" stroke-width="0.9" />
<line x1="150.40" y1="26.30" x2="150.40" y2="180.50" stroke="#2b2a2b" stroke-width="0.9" />
<line x1="150.40" y1="231.00" x2="150.40" y2="379.40" stroke="#2b2a2b" stroke-width="0.9" />
<line x1="150.40" y1="379.40" x2="190.40" y2="379.40" stroke="#2b2a2b" stroke-width="0.9" />
<path d="M150.4,26.3 L148.3,38.2 L152.5,38.2 Z" fill="#111" stroke="none" stroke-width="0" />
<path d="M150.4,379.4 L148.2,368.4 L152.6,368.4 Z" fill="#111" stroke="none" stroke-width="0" />
<line x1="542.00" y1="198.30" x2="724.80" y2="198.30" stroke="#2b2a2b" stroke-width="0.9" />
<line x1="719.00" y1="198.30" x2="719.00" y2="219.00" stroke="#2b2a2b" stroke-width="0.9" />
<line x1="719.00" y1="252.00" x2="719.00" y2="379.40" stroke="#2b2a2b" stroke-width="0.9" />
<line x1="696.50" y1="379.40" x2="724.80" y2="379.40" stroke="#2b2a2b" stroke-width="0.9" />
<path d="M719,198.3 L716.9,205 L721.1,205 Z" fill="#111" stroke="none" stroke-width="0" />
<path d="M719,379.4 L716.9,373.2 L721.1,373.2 Z" fill="#111" stroke="none" stroke-width="0" />
<circle cx="445.55" cy="26.50" r="4.05" fill="none" stroke="#2b2a2b" stroke-width="0.8"/>
<circle cx="347.10" cy="202.70" r="3.95" fill="none" stroke="#2b2a2b" stroke-width="0.8"/>
<circle cx="544.00" cy="202.70" r="3.95" fill="none" stroke="#2b2a2b" stroke-width="0.8"/>
<line x1="445.50" y1="26.30" x2="347.10" y2="202.70" stroke="#2b2a2b" stroke-width="0.8" />
<line x1="445.50" y1="26.30" x2="544.00" y2="202.70" stroke="#2b2a2b" stroke-width="0.8" />
<line x1="347.10" y1="202.70" x2="250.40" y2="373.40" stroke="#2b2a2b" stroke-width="0.8" />
<line x1="347.10" y1="202.70" x2="402.80" y2="373.40" stroke="#2b2a2b" stroke-width="0.8" />
<line x1="544.00" y1="202.70" x2="487.80" y2="373.40" stroke="#2b2a2b" stroke-width="0.8" />
<line x1="544.00" y1="202.70" x2="640.20" y2="373.40" stroke="#2b2a2b" stroke-width="0.8" />
<line x1="250.40" y1="375.20" x2="441.00" y2="418.20" stroke="#2b2a2b" stroke-width="0.8" />
<line x1="402.80" y1="375.20" x2="441.00" y2="418.20" stroke="#2b2a2b" stroke-width="0.8" />
<line x1="487.80" y1="375.20" x2="441.00" y2="418.20" stroke="#2b2a2b" stroke-width="0.8" />
<line x1="640.20" y1="375.20" x2="441.00" y2="418.20" stroke="#2b2a2b" stroke-width="0.8" />
<rect x="783.2" y="273" width="102.29999999999995" height="100" fill="#fff"/>
<rect x="782.2" y="372.6" width="104.4" height="6.6" fill="#fff"/>
<path d="M789.70,264.6 L828.10,264.6 L828.90,272.6 L788.90,272.6 Z" fill="#0c0c0c" stroke="none" stroke-width="0" />
<path d="M791.10,265.2 L797.50,265.2 L797.50,266.0 L791.10,266.0 Z" fill="#fff" stroke="none" stroke-width="0" />
<path d="M817.50,265.2 L824.50,265.2 L824.50,266.0 L817.50,266.0 Z" fill="#fff" stroke="none" stroke-width="0" />
<path d="M790.90,267.0 L796.00,267.0 L794.50,268.0 L790.90,268.7 Z" fill="#fff" stroke="none" stroke-width="0" />
<path d="M799.50,267.0 L807.50,267.0 L806.00,268.3 L797.50,268.8 Z" fill="#fff" stroke="none" stroke-width="0" />
<path d="M810.00,267.4 L813.50,267.2 L813.10,268.5 L809.70,268.7 Z" fill="#e8e8e8" stroke="none" stroke-width="0" />
<path d="M817.00,267.0 L825.70,267.0 L825.90,268.8 L817.30,268.8 Z" fill="#fff" stroke="none" stroke-width="0" />
<path d="M790.70,270.4 L793.90,270.0 L791.50,271.8 L790.50,271.8 Z" fill="#fff" stroke="none" stroke-width="0" />
<path d="M796.50,270.0 L803.90,270.0 L802.50,271.8 L794.50,271.8 Z" fill="#fff" stroke="none" stroke-width="0" />
<path d="M807.00,270.0 L812.50,270.0 L812.50,271.8 L805.70,271.8 Z" fill="#fff" stroke="none" stroke-width="0" />
<path d="M814.50,270.0 L825.00,270.0 L823.70,271.8 L814.50,271.8 Z" fill="#fff" stroke="none" stroke-width="0" />
<path d="M788.20,265.0 L788.70,263.6 L790.50,262.0 L790.90,261.2 L795.50,260.6 L796.10,260.0 L822.70,260.0 L823.10,260.8 L826.50,261.6 L828.30,263.6 L828.80,265.0 Z" fill="#0c0c0c" stroke="#0c0c0c" stroke-width="0.5" />
<path d="M836.40,264.6 L874.80,264.6 L875.60,272.6 L835.60,272.6 Z" fill="#0c0c0c" stroke="none" stroke-width="0" />
<path d="M837.80,265.2 L844.20,265.2 L844.20,266.0 L837.80,266.0 Z" fill="#fff" stroke="none" stroke-width="0" />
<path d="M864.20,265.2 L871.20,265.2 L871.20,266.0 L864.20,266.0 Z" fill="#fff" stroke="none" stroke-width="0" />
<path d="M837.60,267.0 L842.70,267.0 L841.20,268.0 L837.60,268.7 Z" fill="#fff" stroke="none" stroke-width="0" />
<path d="M846.20,267.0 L854.20,267.0 L852.70,268.3 L844.20,268.8 Z" fill="#fff" stroke="none" stroke-width="0" />
<path d="M856.70,267.4 L860.20,267.2 L859.80,268.5 L856.40,268.7 Z" fill="#e8e8e8" stroke="none" stroke-width="0" />
<path d="M863.70,267.0 L872.40,267.0 L872.60,268.8 L864.00,268.8 Z" fill="#fff" stroke="none" stroke-width="0" />
<path d="M837.40,270.4 L840.60,270.0 L838.20,271.8 L837.20,271.8 Z" fill="#fff" stroke="none" stroke-width="0" />
<path d="M843.20,270.0 L850.60,270.0 L849.20,271.8 L841.20,271.8 Z" fill="#fff" stroke="none" stroke-width="0" />
<path d="M853.70,270.0 L859.20,270.0 L859.20,271.8 L852.40,271.8 Z" fill="#fff" stroke="none" stroke-width="0" />
<path d="M861.20,270.0 L871.70,270.0 L870.40,271.8 L861.20,271.8 Z" fill="#fff" stroke="none" stroke-width="0" />
<path d="M834.90,265.0 L835.40,263.6 L837.20,262.0 L837.60,261.2 L842.20,260.6 L842.80,260.0 L869.40,260.0 L869.80,260.8 L873.20,261.6 L875.00,263.6 L875.50,265.0 Z" fill="#0c0c0c" stroke="#0c0c0c" stroke-width="0.5" />
<line x1="783.20" y1="273.40" x2="885.50" y2="273.40" stroke="#0c0c0c" stroke-width="1.9" />
<line x1="788.50" y1="276.30" x2="885.50" y2="276.30" stroke="#8a8a8a" stroke-width="0.9" />
<line x1="783.20" y1="274.00" x2="783.20" y2="373.00" stroke="#333" stroke-width="1.0" />
<line x1="885.50" y1="274.00" x2="885.50" y2="373.00" stroke="#333" stroke-width="1.0" />
<line x1="788.50" y1="275.00" x2="788.50" y2="310.90" stroke="#555" stroke-width="1.0" />
<line x1="788.90" y1="310.90" x2="788.90" y2="372.90" stroke="#111" stroke-width="1.8" />
<line x1="783.40" y1="276.20" x2="789.00" y2="276.20" stroke="#222" stroke-width="1.1" />
<line x1="876.60" y1="275.00" x2="876.60" y2="310.90" stroke="#111" stroke-width="1.3" />
<line x1="880.60" y1="275.00" x2="880.60" y2="310.90" stroke="#222" stroke-width="1.0" />
<line x1="880.20" y1="310.90" x2="880.20" y2="358.80" stroke="#111" stroke-width="1.9" />
<rect x="877.00" y="282.40" width="1.2" height="1.2" fill="#111"/>
<rect x="877.00" y="291.40" width="1.2" height="1.2" fill="#111"/>
<rect x="877.00" y="300.40" width="1.2" height="1.2" fill="#111"/>
<line x1="788.90" y1="310.90" x2="881.10" y2="310.90" stroke="#0c0c0c" stroke-width="2.0" />
<line x1="788.90" y1="358.80" x2="881.10" y2="358.80" stroke="#0c0c0c" stroke-width="2.0" />
<line x1="818.10" y1="310.90" x2="818.10" y2="358.80" stroke="#0c0c0c" stroke-width="1.9" />
<line x1="851.00" y1="310.90" x2="851.00" y2="358.80" stroke="#0c0c0c" stroke-width="1.9" />
<rect x="814.25" y="315.05" width="1.9" height="1.9" fill="#111"/>
<rect x="814.25" y="353.15" width="1.9" height="1.9" fill="#111"/>
<rect x="847.05" y="315.05" width="1.9" height="1.9" fill="#111"/>
<rect x="847.05" y="353.15" width="1.9" height="1.9" fill="#111"/>
<rect x="853.05" y="315.05" width="1.9" height="1.9" fill="#111"/>
<rect x="853.05" y="353.15" width="1.9" height="1.9" fill="#111"/>
<rect x="845.30" y="343.90" width="2.2" height="2.2" fill="#222"/>
<line x1="790.00" y1="359.00" x2="790.00" y2="372.60" stroke="#222" stroke-width="1.3" stroke-dasharray="2.5 1"/>
<line x1="878.90" y1="359.00" x2="878.90" y2="372.60" stroke="#222" stroke-width="1.3" stroke-dasharray="2.5 1"/>
<line x1="782.20" y1="372.90" x2="886.60" y2="372.90" stroke="#0c0c0c" stroke-width="1.8" />
<line x1="782.20" y1="379.00" x2="886.60" y2="379.00" stroke="#0c0c0c" stroke-width="1.8" />
<line x1="782.20" y1="372.60" x2="782.20" y2="379.00" stroke="#333" stroke-width="0.9" />
<line x1="886.60" y1="372.60" x2="886.60" y2="379.00" stroke="#333" stroke-width="0.9" />
<rect x="782.40" y="373.40" width="3.60" height="5.40" fill="none" stroke="#444" stroke-width="0.6"/>
<line x1="782.40" y1="373.40" x2="786.00" y2="378.80" stroke="#444" stroke-width="0.6" />
<line x1="786.00" y1="373.40" x2="782.40" y2="378.80" stroke="#444" stroke-width="0.6" />
<rect x="882.80" y="373.40" width="3.60" height="5.40" fill="none" stroke="#444" stroke-width="0.6"/>
<line x1="882.80" y1="373.40" x2="886.40" y2="378.80" stroke="#444" stroke-width="0.6" />
<line x1="886.40" y1="373.40" x2="882.80" y2="378.80" stroke="#444" stroke-width="0.6" />
<rect x="785.35" y="358.05" width="0.9" height="0.9" fill="#444"/>
<rect x="882.75" y="358.05" width="0.9" height="0.9" fill="#444"/>
<rect x="785.35" y="367.55" width="0.9" height="0.9" fill="#444"/>
<rect x="882.75" y="367.55" width="0.9" height="0.9" fill="#444"/>
<circle cx="834.50" cy="26.40" r="4.05" fill="none" stroke="#2b2a2b" stroke-width="0.8"/>
<rect x="770.40" y="198.10" width="128.20" height="8.30" fill="none" stroke="#2b2a2b" stroke-width="0.8"/>
<line x1="834.50" y1="26.40" x2="771.20" y2="198.10" stroke="#2b2a2b" stroke-width="0.8" />
<line x1="834.50" y1="26.40" x2="897.80" y2="198.10" stroke="#2b2a2b" stroke-width="0.8" />
<path d="M771.0,206.4 L773.6,250 L779.2,320 L783.2,372" fill="none" stroke="#2b2a2b" stroke-width="0.8" />
<path d="M898.0,206.4 L895.4,250 L890.5,320 L886.0,372" fill="none" stroke="#2b2a2b" stroke-width="0.8" />
<line x1="668.80" y1="148.20" x2="778.10" y2="148.20" stroke="#4a4a4a" stroke-width="1.0" />
<line x1="778.10" y1="148.20" x2="839.50" y2="202.50" stroke="#2b2a2b" stroke-width="0.8" />
</svg>
<svg width="1031" height="492" viewBox="0 0 1031 492">
<text font-family="Liberation Serif, serif" fill="#262626"><tspan x="132.67" y="215.80" font-size="20.00" textLength="12.72" lengthAdjust="spacingAndGlyphs" >&gt;</tspan><tspan x="146.60" y="214.77" font-size="16.32" textLength="14.95" lengthAdjust="spacingAndGlyphs" >20</tspan><tspan x="161.69" y="215.00" font-size="16.38" textLength="7.99" lengthAdjust="spacingAndGlyphs" >m</tspan></text>
<text font-family="Liberation Serif, serif" fill="#262626"><tspan x="698.97" y="242.96" font-size="19.59" textLength="13.92" lengthAdjust="spacingAndGlyphs" >&gt;</tspan><tspan x="713.60" y="241.99" font-size="15.59" textLength="7.56" lengthAdjust="spacingAndGlyphs" >3</tspan><tspan x="721.30" y="241.80" font-size="15.53" textLength="7.78" lengthAdjust="spacingAndGlyphs" >m</tspan></text>
<text font-family="Liberation Serif, Noto Serif CJK SC, serif" font-weight="300" fill="#2a2a2a" x="674.45" y="143.4" font-size="14.9">撑杆</text>
<text font-family="Liberation Serif, Noto Serif CJK SC, serif" font-weight="300" fill="#2a2a2a" x="412.2" y="437.0" font-size="14.2" letter-spacing="1.5">吊装孔</text>
<text font-family="Liberation Serif, Noto Serif CJK SC, serif" font-weight="300" fill="#2a2a2a" font-size="22" letter-spacing="0.45"><tspan x="418.61" y="465.74" font-size="22.94" textLength="11.48" lengthAdjust="spacingAndGlyphs" font-weight="400" letter-spacing="0">8</tspan><tspan x="430" y="466.4"> </tspan><tspan x="436.2" y="466.4">个吊装孔的吊装示意图</tspan></text>
</svg>
</body></html>
